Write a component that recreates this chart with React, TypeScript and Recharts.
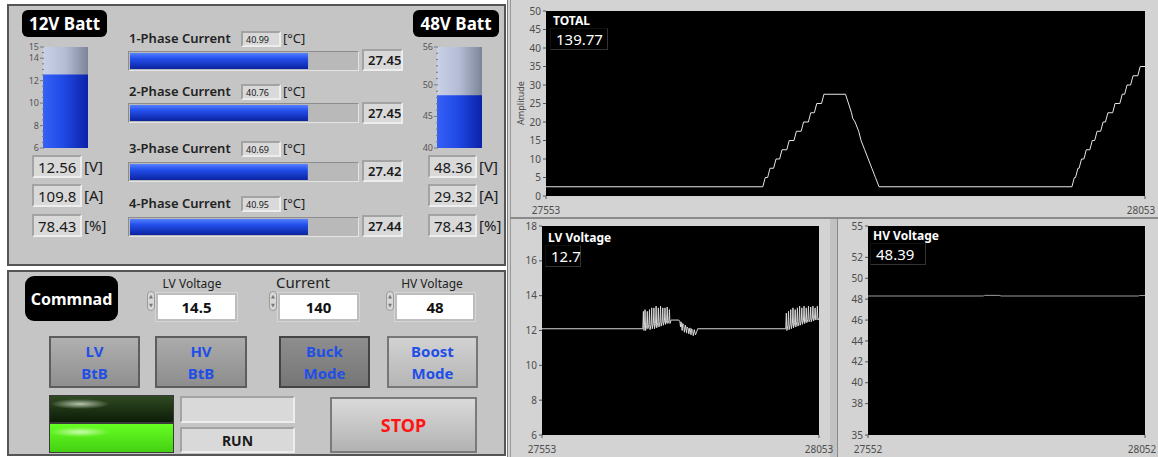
import React from 'react';
import { LineChart, Line, XAxis, YAxis, CartesianGrid, BarChart, Bar } from 'recharts';

// ---------- data ----------
const totalPoints: [number, number][] = [
  [27553, 2.5], [27734, 2.5], [27736, 5], [27738, 5], [27740, 7.5], [27743, 7.5], [27745, 10], [27748, 10],
  [27750, 12.5], [27754, 12.5], [27756, 15], [27760, 15], [27762, 17.5], [27766, 17.5], [27768, 20], [27772, 20],
  [27774, 22.5], [27777, 22.5], [27779, 25], [27783, 25], [27785, 27.5], [27803, 27.5],
  [27808, 22.5], [27809, 21], [27811, 20], [27814, 17.5], [27816, 15], [27819, 12.5], [27822, 10], [27825, 7.5],
  [27828, 5], [27831, 2.5], [27992, 2.5],
  [27994, 5], [27995, 5], [27997, 7.5], [27998, 7.5], [28000, 10], [28002, 10], [28004, 12.5], [28007, 12.5],
  [28009, 15], [28011, 15], [28013, 17.5], [28016, 17.5], [28018, 20], [28020, 20], [28022, 22.5], [28026, 22.5],
  [28028, 25], [28032, 25], [28034, 27.5], [28036, 27.5], [28038, 30], [28041, 30], [28043, 32.5], [28047, 32.5],
  [28049, 35], [28053, 35],
];

const lvPoints: [number, number][] = [
  [27553, 12.1], [27735, 12.1], [27736, 13.1], [27737, 12.0], [27738, 12.3], [27739, 13.2], [27740, 12.0],
  [27742, 12.3], [27743, 13.1], [27744, 12.1], [27746, 12.35], [27747, 13.2], [27748, 12.05], [27750, 12.35],
  [27751, 13.3], [27752, 12.1], [27754, 12.4], [27755, 13.3], [27756, 12.1], [27758, 12.4], [27759, 13.4],
  [27760, 12.15], [27762, 12.45], [27763, 13.3], [27764, 12.2], [27766, 12.5], [27767, 13.4], [27768, 12.25],
  [27770, 12.5], [27771, 13.3], [27772, 12.3], [27774, 12.55], [27775, 13.3], [27776, 12.35], [27778, 12.55],
  [27779, 13.35], [27780, 12.4], [27782, 12.55], [27783, 13.2], [27784, 12.4], [27786, 12.6], [27800, 12.6],
  [27802, 12.5], [27803, 12.2], [27804, 12.5], [27806, 12.0], [27807, 12.4], [27809, 12.3], [27810, 11.9],
  [27812, 12.3], [27814, 11.85], [27815, 12.2], [27817, 12.1], [27818, 11.8], [27820, 12.15], [27822, 11.75],
  [27823, 12.1], [27825, 12.0], [27826, 11.7], [27828, 12.05], [27830, 11.75], [27832, 11.9], [27834, 12.1],
  [27993, 12.1], [27994, 13.0], [27995, 12.0], [27997, 12.3], [27998, 13.1], [27999, 12.05], [28001, 12.35],
  [28002, 13.2], [28003, 12.1], [28005, 12.4], [28006, 13.3], [28007, 12.15], [28009, 12.45], [28010, 13.2],
  [28011, 12.2], [28013, 12.5], [28014, 13.3], [28015, 12.25], [28017, 12.5], [28018, 13.4], [28019, 12.3],
  [28021, 12.55], [28022, 13.3], [28023, 12.35], [28025, 12.6], [28026, 13.4], [28027, 12.4], [28029, 12.6],
  [28030, 13.3], [28031, 12.45], [28033, 12.65], [28034, 13.4], [28035, 12.5], [28037, 12.65], [28038, 13.35],
  [28039, 12.5], [28041, 12.7], [28042, 13.4], [28043, 12.55], [28045, 12.7], [28046, 13.3], [28047, 12.6],
  [28049, 12.7], [28050, 13.4], [28051, 12.6], [28053, 12.7],
];

const hvPoints: [number, number][] = [
  [27552, 48.3], [27760, 48.3], [27762, 48.36], [27790, 48.36], [27792, 48.3], [28040, 48.3], [28042, 48.35], [28052, 48.35],
];

const totalTicksY = [0, 5, 10, 15, 20, 25, 30, 35, 40, 45, 50];
const totalTicksX = [27553, 28053];
const lvTicksY = [6, 8, 10, 12, 14, 16, 18];
const lvTicksX = [27553, 28053];
const hvTicksY = [35, 38, 40, 42, 44, 46, 48, 50, 52, 55];
const hvTicksX = [27552, 28052];

const totalValue = '139.77';
const lvValue = '12.7';
const hvValue = '48.39';

const phaseNames = ['1-Phase Current', '2-Phase Current', '3-Phase Current', '4-Phase Current'];
const phaseCurrents = [27.45, 27.45, 27.42, 27.44];
const phaseTemps = [40.99, 40.76, 40.69, 40.95];

const batt12Level = 12.56;
const batt12Ticks = [6, 8, 10, 12, 14, 15];
const batt12MinorTicks = [6.5, 7, 7.5, 8.5, 9, 9.5, 10.5, 11, 11.5, 12.5, 13, 13.5, 14.5];
const batt12Readouts = ['12.56', '109.8', '78.43'];
const batt48Level = 48.36;
const batt48Ticks = [40, 45, 50, 56];
const batt48MinorTicks = [41, 42, 43, 44, 46, 47, 48, 49, 51, 52, 53, 54, 55];
const batt48Readouts = ['48.36', '29.32', '78.43'];
const readoutUnits = ['[V]', '[A]', '[%]'];

const commandLabels = ['LV Voltage', 'Current', 'HV Voltage'];
const commandValues = ['14.5', '140', '48'];
const buttonLabels = [['LV', 'BtB'], ['HV', 'BtB'], ['Buck', 'Mode'], ['Boost', 'Mode']];

// ---------- layout helpers ----------
const FONT = '"Noto Sans", "DejaVu Sans", sans-serif';
const toXY = (pts: [number, number][]) => pts.map(([x, y]) => ({ x, y }));

const abs = (left: number, top: number, width?: number, height?: number): React.CSSProperties => ({
  position: 'absolute', left, top, width, height, boxSizing: 'border-box',
});

const readoutStyle: React.CSSProperties = {
  background: '#d9d9d9',
  borderTop: '2px solid #a3a3a3',
  borderLeft: '2px solid #a3a3a3',
  borderBottom: '2px solid #ededed',
  borderRight: '2px solid #ededed',
  color: '#1a1a1a',
  display: 'flex',
  alignItems: 'center',
  fontFamily: FONT,
};

function Readout({ left, top, w, h, text, size = 15, weight = 400, pad = 4, center = false }: any) {
  return (
    <div style={{ ...abs(left, top, w, h), ...readoutStyle, fontSize: size, fontWeight: weight, paddingLeft: center ? 0 : pad, justifyContent: center ? 'center' : 'flex-start' }}>
      {text}
    </div>
  );
}

function BlackLabel({ left, top, w, h, text, size, radius }: any) {
  return (
    <div style={{ ...abs(left, top, w, h), background: '#000', borderRadius: radius, color: '#fff', fontWeight: 700, fontSize: size, fontFamily: FONT, display: 'flex', alignItems: 'center', justifyContent: 'center' }}>
      {text}
    </div>
  );
}

function makeTankTick(major: number[]) {
  return (props: any) => {
    const { x, y, payload } = props;
    const isMajor = major.includes(payload.value);
    const x0 = x + 3;
    return (
      <g>
        <line x1={x0 - (isMajor ? 4 : 2)} x2={x0} y1={y} y2={y} stroke="#777" strokeWidth={1} />
        {isMajor && (
          <text x={x0 - 5} y={y} dy={3} textAnchor="end" fontSize={9} fill="#555">{payload.value}</text>
        )}
      </g>
    );
  };
}

function Tank({ left, level, domain, ticks, minor, id }: any) {
  const data = [{ name: 'tank', v: level }];
  const all = [...ticks, ...minor].sort((a: number, b: number) => a - b);
  return (
    <div style={abs(left, 41)}>
      <BarChart width={78} height={112} data={data} margin={{ top: 6, right: 2, bottom: 5, left: 0 }} barCategoryGap={0} style={{ fontFamily: FONT }}>
        <defs>
          <linearGradient id={`${id}Fill`} x1="0" y1="0" x2="1" y2="0">
            <stop offset="0" stopColor="#3461f7" />
            <stop offset="0.45" stopColor="#2149e6" />
            <stop offset="1" stopColor="#0a22a8" />
          </linearGradient>
          <linearGradient id={`${id}Bg`} x1="0" y1="0" x2="1" y2="0">
            <stop offset="0" stopColor="#c9d1e8" />
            <stop offset="0.5" stopColor="#b3bcd4" />
            <stop offset="1" stopColor="#7c8598" />
          </linearGradient>
        </defs>
        <XAxis dataKey="name" hide />
        <YAxis type="number" domain={domain} ticks={all} interval={0} width={31} tickSize={0} tickLine={false} axisLine={false}
          tick={makeTankTick(ticks)} allowDataOverflow />
        <Bar dataKey="v" fill={`url(#${id}Fill)`} background={{ fill: `url(#${id}Bg)` }} isAnimationActive={false} />
      </BarChart>
    </div>
  );
}

function PhaseBar({ top, value }: any) {
  const data = [{ name: 'phase', v: value }];
  return (
    <div style={{ ...abs(128, top, 231, 20), background: '#b9b9b9', borderTop: '1px solid #8c8c8c', borderLeft: '1px solid #8c8c8c', borderBottom: '1px solid #e4e4e4', borderRight: '1px solid #e4e4e4', padding: 1 }}>
      <BarChart layout="vertical" width={227} height={16} data={data} margin={{ top: 0, right: 0, bottom: 0, left: 0 }} barCategoryGap={0}>
        <defs>
          <linearGradient id="phaseFill" x1="0" y1="0" x2="0" y2="1">
            <stop offset="0" stopColor="#5580ff" />
            <stop offset="0.35" stopColor="#2450ec" />
            <stop offset="1" stopColor="#0a23a0" />
          </linearGradient>
        </defs>
        <XAxis type="number" domain={[0, 35]} hide />
        <YAxis type="category" dataKey="name" hide />
        <Bar dataKey="v" fill="url(#phaseFill)" isAnimationActive={false} />
      </BarChart>
    </div>
  );
}

function PlotOverlay({ left, top, title, value, boxW, titleSize, valueSize }: any) {
  return (
    <>
      <div style={{ ...abs(left + 3, top), color: '#fff', fontWeight: 700, fontSize: titleSize, fontFamily: FONT, lineHeight: '14px' }}>{title}</div>
      <div style={{ ...abs(left, top + 14, boxW, 22), borderRight: '1px solid #333', borderBottom: '1px solid #333', borderTop: '1px solid #111', borderLeft: '1px solid #111', color: '#fff', fontSize: valueSize, fontFamily: FONT, paddingLeft: 5, display: 'flex', alignItems: 'center' }}>{value}</div>
    </>
  );
}

function makeXTick(lastValue: number, shift: number) {
  return (props: any) => {
    const { x, y, payload } = props;
    const dx = payload.value === lastValue ? shift : 0;
    return (
      <text x={x + dx} y={y} dy={13} textAnchor="middle" fontSize={10} fill="#4d4d4d">{payload.value}</text>
    );
  };
}

const tickStyle = { fontSize: 10, fill: '#4d4d4d' };

function Spinner({ left, top }: any) {
  return (
    <div style={{ ...abs(left, top, 8, 20), border: '1px solid #9a9a9a', borderRadius: 4, background: '#d8d8d8', fontSize: 5, color: '#777', display: 'flex', flexDirection: 'column', alignItems: 'center', justifyContent: 'space-around', lineHeight: '5px' }}>
      <span>▲</span><span>▼</span>
    </div>
  );
}

const buttonThemes = [
  { bg: 'linear-gradient(#b0b0b0, #8f8f8f)', border: '#5d5d5d' },
  { bg: 'linear-gradient(#ababab, #8d8d8d)', border: '#5d5d5d' },
  { bg: 'linear-gradient(#8e8e8e, #767676)', border: '#444' },
  { bg: 'linear-gradient(#d2d2d2, #b5b5b5)', border: '#777' },
];
const buttonLefts = [49, 155, 279, 387];
const buttonWidths = [91, 92, 91, 91];
const cmdCenters = [192, 303, 432];
const cmdBoxLefts = [156, 278, 395];
const cmdBoxWidths = [81, 81, 80];
const phaseLabelTops = [30, 83, 140, 195];
const phaseBarTops = [51, 103, 162, 217];
const phaseValueTops = [49, 102, 160, 215];
const readoutTops = [155, 184, 214];

export default function App() {
  return (
    <div style={{ position: 'absolute', left: 0, top: 0, width: 1158, height: 457, background: '#ffffff', overflow: 'hidden', fontFamily: FONT }}>
      {/* ---- left top panel ---- */}
      <div style={{ ...abs(7, 4, 499, 262), background: '#c5c5c5', border: '2px solid #555' }} />
      <BlackLabel left={22} top={10} w={85} h={27} text="12V Batt" size={17} radius={6} />
      <BlackLabel left={413} top={10} w={86} h={27} text="48V Batt" size={17} radius={6} />
      <Tank left={12} level={batt12Level} domain={[6, 15]} ticks={batt12Ticks} minor={batt12MinorTicks} id="t12" />
      <Tank left={406} level={batt48Level} domain={[40, 56]} ticks={batt48Ticks} minor={batt48MinorTicks} id="t48" />
      {batt12Readouts.map((t, i) => (
        <React.Fragment key={'a' + i}>
          <Readout left={32} top={readoutTops[i]} w={50} h={23} text={t} size={15} />
          <div style={{ ...abs(84, readoutTops[i] + 1), fontSize: 15, color: '#1a1a1a', lineHeight: '20px' }}>{readoutUnits[i]}</div>
        </React.Fragment>
      ))}
      {batt48Readouts.map((t, i) => (
        <React.Fragment key={'b' + i}>
          <Readout left={428} top={readoutTops[i]} w={49} h={23} text={t} size={15} />
          <div style={{ ...abs(479, readoutTops[i] + 1), fontSize: 15, color: '#1a1a1a', lineHeight: '20px' }}>{readoutUnits[i]}</div>
        </React.Fragment>
      ))}
      {phaseNames.map((n, i) => (
        <React.Fragment key={'p' + i}>
          <div style={{ ...abs(129, phaseLabelTops[i]), fontSize: 13, fontWeight: 600, color: '#222', lineHeight: '17px' }}>{n}</div>
          <Readout left={241} top={phaseLabelTops[i] + 1} w={40} h={16} text={phaseTemps[i].toFixed(2)} size={9} pad={3} />
          <div style={{ ...abs(283, phaseLabelTops[i]), fontSize: 13, color: '#222', lineHeight: '17px' }}>[°C]</div>
          <PhaseBar top={phaseBarTops[i]} value={phaseCurrents[i]} />
          <Readout left={362} top={phaseValueTops[i]} w={41} h={22} text={phaseCurrents[i].toFixed(2)} size={13} weight={600} pad={4} />
        </React.Fragment>
      ))}

      {/* ---- left bottom panel ---- */}
      <div style={{ ...abs(7, 270, 499, 186), background: '#c5c5c5', border: '2px solid #555' }} />
      <BlackLabel left={25} top={276} w={93} h={45} text="Commnad" size={16} radius={9} />
      {commandLabels.map((l, i) => (
        <React.Fragment key={'c' + i}>
          <div style={{ ...abs(cmdCenters[i] - 60, i === 1 ? 273 : 275, 120), textAlign: 'center', fontSize: i === 1 ? 15 : 12, color: '#222', lineHeight: '18px' }}>{l}</div>
          <Spinner left={cmdBoxLefts[i] - 9} top={291} />
          <div style={{ ...abs(cmdBoxLefts[i], 293, cmdBoxWidths[i], 28), background: '#fff', border: '2px solid #bdbdbd', outline: '1px solid #d6d6d6', display: 'flex', alignItems: 'center', justifyContent: 'center', fontSize: 15, fontWeight: 700, color: '#111' }}>{commandValues[i]}</div>
        </React.Fragment>
      ))}
      {buttonLabels.map((b, i) => (
        <div key={'btn' + i} style={{ ...abs(buttonLefts[i], 336, buttonWidths[i], 52), background: buttonThemes[i].bg, border: `2px solid ${buttonThemes[i].border}`, display: 'flex', flexDirection: 'column', alignItems: 'center', justifyContent: 'center', color: '#1f4fe6', fontWeight: 700, fontSize: 15, lineHeight: '22px' }}>
          <span>{b[0]}</span><span>{b[1]}</span>
        </div>
      ))}
      <div style={{ ...abs(49, 395, 125, 28), background: 'radial-gradient(ellipse 30px 5px at 30px 8px, rgba(220,230,210,0.8), rgba(0,0,0,0) 100%), linear-gradient(#2f4a22, #0d1c07)', border: '1px solid #3a3a3a' }} />
      <div style={{ ...abs(49, 423, 125, 30), background: 'radial-gradient(ellipse 30px 5px at 30px 8px, rgba(230,255,210,0.8), rgba(0,0,0,0) 100%), linear-gradient(#66ff22, #44d012)', border: '1px solid #3a3a3a' }} />
      <div style={{ ...abs(180, 396, 115, 27), ...readoutStyle }} />
      <div style={{ ...abs(180, 427, 115, 26), ...readoutStyle, justifyContent: 'center', fontWeight: 700, fontSize: 14 }}>RUN</div>
      <div style={{ ...abs(330, 397, 147, 56), background: 'linear-gradient(#dadada, #b2b2b2)', border: '2px solid #7a7a7a', display: 'flex', alignItems: 'center', justifyContent: 'center', color: '#ff1414', fontWeight: 700, fontSize: 18 }}>STOP</div>

      {/* ---- right charts area ---- */}
      <div style={{ ...abs(507, 0, 651, 457), background: '#d3d3d3', borderLeft: '1px solid #7d7d7d' }} />
      <div style={{ ...abs(510, 0, 1, 457), background: '#9a9a9a' }} />
      <div style={{ ...abs(510, 217, 648, 2), background: '#8a8a8a' }} />
      <div style={{ ...abs(830, 219, 7, 238), background: '#c2c2c2' }} />
      <div style={{ ...abs(837, 219, 1, 238), background: '#8a8a8a' }} />

      <div style={abs(510, 0)}>
        <LineChart width={648} height={217} margin={{ top: 11, right: 13, bottom: 0, left: 6 }} style={{ fontFamily: FONT }}>
          <CartesianGrid fill="#000" horizontal={false} vertical={false} />
          <XAxis type="number" dataKey="x" domain={[27553, 28053]} ticks={totalTicksX} interval={0} tickSize={3} height={21} axisLine={false} tickLine={{ stroke: '#555' }} tick={makeXTick(28053, -4)} allowDataOverflow />
          <YAxis type="number" domain={[0, 50]} ticks={totalTicksY} interval={0} width={30} tickSize={3} axisLine={false} tickLine={{ stroke: '#555' }} tick={tickStyle} allowDataOverflow />
          <Line data={toXY(totalPoints)} dataKey="y" type="linear" stroke="#e6e6e6" strokeWidth={1} dot={false} isAnimationActive={false} />
        </LineChart>
      </div>
      <div style={{ ...abs(486, 97, 70, 12), transform: 'rotate(-90deg)', fontSize: 9, color: '#444', textAlign: 'center', lineHeight: '12px' }}>Amplitude</div>
      <PlotOverlay left={550} top={14} title="TOTAL" value={totalValue} boxW={58} titleSize={12} valueSize={15} />

      <div style={abs(510, 218)}>
        <LineChart width={327} height={239} margin={{ top: 8, right: 18, bottom: 0, left: 7 }} style={{ fontFamily: FONT }}>
          <CartesianGrid fill="#000" horizontal={false} vertical={false} />
          <XAxis type="number" dataKey="x" domain={[27553, 28053]} ticks={lvTicksX} interval={0} tickSize={3} height={22} axisLine={false} tickLine={{ stroke: '#555' }} tick={makeXTick(28053, 0)} allowDataOverflow />
          <YAxis type="number" domain={[6, 18]} ticks={lvTicksY} interval={0} width={25} tickSize={3} axisLine={false} tickLine={{ stroke: '#555' }} tick={tickStyle} allowDataOverflow />
          <Line data={toXY(lvPoints)} dataKey="y" type="linear" stroke="#d8d8d8" strokeWidth={1} dot={false} isAnimationActive={false} />
        </LineChart>
      </div>
      <PlotOverlay left={545} top={231} title="LV Voltage" value={lvValue} boxW={36} titleSize={12} valueSize={15} />

      <div style={abs(840, 218)}>
        <LineChart width={318} height={239} margin={{ top: 8, right: 13, bottom: 0, left: 6 }} style={{ fontFamily: FONT }}>
          <CartesianGrid fill="#000" horizontal={false} vertical={false} />
          <XAxis type="number" dataKey="x" domain={[27552, 28052]} ticks={hvTicksX} interval={0} tickSize={3} height={22} axisLine={false} tickLine={{ stroke: '#555' }} tick={makeXTick(28052, -3)} allowDataOverflow />
          <YAxis type="number" domain={[35, 55]} ticks={hvTicksY} interval={0} width={22} tickSize={3} axisLine={false} tickLine={{ stroke: '#555' }} tick={tickStyle} allowDataOverflow />
          <Line data={toXY(hvPoints)} dataKey="y" type="linear" stroke="#9a9a9a" strokeWidth={1} dot={false} isAnimationActive={false} />
        </LineChart>
      </div>
      <PlotOverlay left={870} top={229} title="HV Voltage" value={hvValue} boxW={56} titleSize={12} valueSize={15} />
    </div>
  );
}
